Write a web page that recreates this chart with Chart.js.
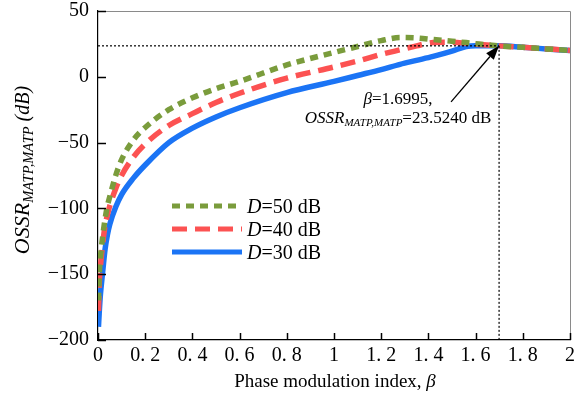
<!DOCTYPE html>
<html><head><meta charset="utf-8">
<script src="https://cdn.jsdelivr.net/npm/chart.js@4/dist/chart.umd.min.js"></script>
<style>html,body{margin:0;padding:0;background:#fff;}canvas{display:block;}</style>
</head><body>
<canvas id="c" width="578" height="403"></canvas>
<script>
// ---- data ----
const beta = [0.002,0.005,0.01,0.02,0.03,0.04,0.05,0.075,0.1,0.15,0.2,0.3,0.4,0.5,0.6,0.8,1.0,1.1,1.2,1.28,1.35,1.42,1.5,1.56,1.6,1.7,1.8,1.9,2.0];
const ossrD50 = [-170,-152,-138,-121,-108,-98,-91,-75,-63,-48,-38.5,-25,-16,-9,-3.5,9,18.5,23,27.5,29.8,29.5,28.3,27,26,25.2,23.5,22.4,21.2,20];
const ossrD40 = [-178,-158,-145,-127,-113,-105,-98,-85,-75,-61,-51,-37,-28,-19.5,-12.5,-1,7.5,12,17,20.5,23.5,26,26.3,25.5,24.8,23.5,22.4,21.2,20];
const ossrD30 = [-190,-180,-166,-148,-131,-120,-112,-99,-89.5,-77,-67,-50,-39,-30.5,-23.5,-12,-3.5,1,5.5,9.5,12.5,15.5,19.5,23,23.6,23.5,22.4,21.2,20];
const seriesD = ['50','40','30'];
const xTicks = [0,0.2,0.4,0.6,0.8,1,1.2,1.4,1.6,1.8,2];
const yTicks = [50,0,-50,-100,-150,-200];
const optBeta = 1.6995;
const optOssr = 23.5240;
const arrowTail = {x: 1.496, y: -19};

const SERIF = '"Liberation Serif","Times New Roman",serif';
const colors = ['#7a9c3c','#fc5252','#1b74f5'];
const dashes = [[8,6],[15,8],[]];

const pts = arr => beta.map((b,i)=>({x:b,y:arr[i]}));

function richWidth(ctx, segs){
  let w=0; for(const s of segs){ctx.font=s.f; w+=ctx.measureText(s.t).width + (s.gap||0);} return w;
}
function drawRich(ctx, segs, x, y, align){
  const w = richWidth(ctx, segs);
  let cx = align==='center'? x-w/2 : align==='right'? x-w : x;
  ctx.textAlign='left'; ctx.textBaseline='alphabetic';
  for(const s of segs){ctx.font=s.f; ctx.fillText(s.t, cx, y+(s.dy||0)); cx += ctx.measureText(s.t).width + (s.gap||0);}
}

const deco = {
  id:'deco',
  afterDraw(chart){
    const ctx=chart.ctx, a=chart.chartArea, xs=chart.scales.x, ys=chart.scales.y;
    ctx.save();
    ctx.strokeStyle='#8a8a8a'; ctx.lineWidth=1;
    ctx.beginPath(); ctx.moveTo(a.left, a.top+0.5); ctx.lineTo(a.right+0.5, a.top+0.5); ctx.lineTo(a.right+0.5, a.bottom); ctx.stroke();
    ctx.strokeStyle='#000'; ctx.lineWidth=1.5;
    for(const v of yTicks){const p=Math.round(ys.getPixelForValue(v))+0.5; ctx.beginPath(); ctx.moveTo(a.left,p); ctx.lineTo(a.left+8,p); ctx.stroke();}
    for(const v of xTicks){const p=Math.round(xs.getPixelForValue(v))+0.5; ctx.beginPath(); ctx.moveTo(p,a.bottom); ctx.lineTo(p,a.bottom-7); ctx.stroke();}
    ctx.fillStyle='#000';
    const ly=[206,229,252];
    seriesD.forEach((d,i)=>{
      ctx.strokeStyle=colors[i]; ctx.lineWidth=5; ctx.setLineDash(dashes[i]); ctx.lineCap='butt';
      ctx.beginPath(); ctx.moveTo(172,ly[i]); ctx.lineTo(242,ly[i]); ctx.stroke();
      ctx.setLineDash([]);
      drawRich(ctx,[{t:'D',f:'italic 20px '+SERIF},{t:'='+d+' dB',f:'20px '+SERIF}],247,ly[i]+7,'left');
    });
    ctx.save(); ctx.translate(29,170); ctx.rotate(-Math.PI/2);
    drawRich(ctx,[{t:'OSSR',f:'italic 22px '+SERIF},{t:'MATP,MATP',f:'italic 14.5px '+SERIF,dy:4,gap:5},{t:'(dB)',f:'italic 20px '+SERIF}],0,0,'center');
    ctx.restore();
    drawRich(ctx,[{t:'Phase modulation index, ',f:'19px '+SERIF},{t:'β',f:'italic 19px '+SERIF}],335,387,'center');
    drawRich(ctx,[{t:'β',f:'italic 17px '+SERIF},{t:'=1.6995,',f:'17px '+SERIF}],398,104,'center');
    drawRich(ctx,[{t:'OSSR',f:'italic 17px '+SERIF},{t:'MATP,MATP',f:'italic 11px '+SERIF,dy:3},{t:'=23.5240 dB',f:'17px '+SERIF}],398,123,'center');
    const tx=xs.getPixelForValue(optBeta), ty=ys.getPixelForValue(optOssr);
    const sx=xs.getPixelForValue(arrowTail.x), sy=ys.getPixelForValue(arrowTail.y);
    const ang=Math.atan2(ty-sy,tx-sx), L=14, W=5;
    const bx=tx-L*Math.cos(ang), by=ty-L*Math.sin(ang);
    ctx.strokeStyle='#000'; ctx.lineWidth=1.3;
    ctx.beginPath(); ctx.moveTo(sx,sy); ctx.lineTo(bx,by); ctx.stroke();
    ctx.fillStyle='#000'; ctx.beginPath(); ctx.moveTo(tx,ty);
    ctx.lineTo(bx+W*Math.sin(ang), by-W*Math.cos(ang));
    ctx.lineTo(bx-W*Math.sin(ang), by+W*Math.cos(ang)); ctx.closePath(); ctx.fill();
    ctx.restore();
  }
};

const refStyle = {borderColor:'#000',borderWidth:1.2,borderDash:[2,2],pointRadius:0,fill:false,tension:0};
new Chart(document.getElementById('c'),{
  type:'line',
  data:{datasets:[
    {label:'D=50 dB',data:pts(ossrD50),borderColor:colors[0],borderWidth:5.5,borderDash:dashes[0],pointRadius:0,cubicInterpolationMode:'monotone',order:1},
    {label:'D=40 dB',data:pts(ossrD40),borderColor:colors[1],borderWidth:5.5,borderDash:dashes[1],pointRadius:0,cubicInterpolationMode:'monotone',order:2},
    {label:'D=30 dB',data:pts(ossrD30),borderColor:colors[2],borderWidth:5.5,pointRadius:0,cubicInterpolationMode:'monotone',order:3},
    Object.assign({label:'h',data:[{x:0,y:optOssr},{x:optBeta,y:optOssr}],order:0},refStyle),
    Object.assign({label:'v',data:[{x:optBeta,y:optOssr},{x:optBeta,y:-200}],order:0},refStyle)
  ]},
  options:{
    responsive:false, animation:false, devicePixelRatio:1,
    layout:{padding:{top:11,right:8,left:0,bottom:0}},
    plugins:{legend:{display:false},tooltip:{enabled:false}},
    scales:{
      x:{type:'linear',min:0,max:2,
        afterFit(s){s.height=63; s.paddingLeft=0; s.paddingRight=0;},
        afterBuildTicks(s){s.ticks=xTicks.map(v=>({value:v}));},
        grid:{drawOnChartArea:false,drawTicks:false},
        border:{display:true,color:'#000',width:1.2},
        ticks:{autoSkip:false,maxRotation:0,padding:6,color:'#000',font:{family:SERIF,size:20,lineHeight:1},
          callback:v=>{const r=Math.round(v*10)/10; return Number.isInteger(r)?String(r):String(r).replace('.','. ');}}},
      y:{type:'linear',min:-200,max:50,
        afterFit(s){s.width=98; s.paddingTop=0; s.paddingBottom=0;},
        afterBuildTicks(s){s.ticks=yTicks.map(v=>({value:v}));},
        grid:{drawOnChartArea:false,drawTicks:false},
        border:{display:true,color:'#000',width:1.2},
        ticks:{padding:9,color:'#000',font:{family:SERIF,size:20,lineHeight:1},
          callback:v=>String(v).replace('-','\u2212')}}
    }
  },
  plugins:[deco]
});
</script>
</body></html>
